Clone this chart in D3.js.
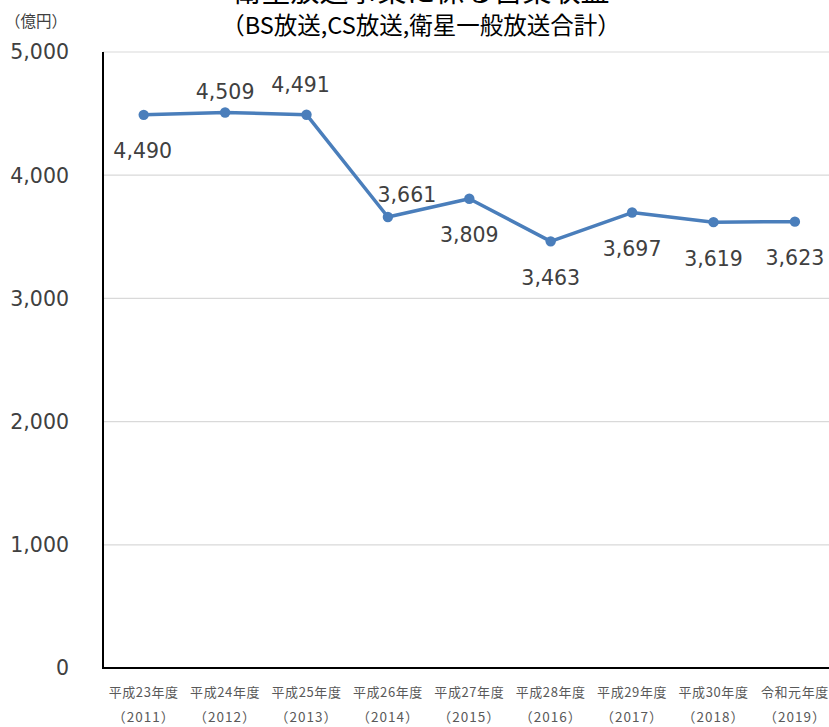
<!DOCTYPE html>
<html><head><meta charset="utf-8">
<script src="https://cdn.jsdelivr.net/npm/d3@7"></script>
<style>body{margin:0;background:#fff;overflow:hidden}svg{display:block}</style>
</head><body>
<svg id="c" width="829" height="727"></svg>
<script>
const categories = ["平成23年度","平成24年度","平成25年度","平成26年度","平成27年度","平成28年度","平成29年度","平成30年度","令和元年度"];
const years = ["（2011）","（2012）","（2013）","（2014）","（2015）","（2016）","（2017）","（2018）","（2019）"];
const values = [4490,4509,4491,3661,3809,3463,3697,3619,3623];
const labelPos = ["belowLeft","above","aboveLeft","aboveRight","below","below","below","below","below"];
const yTicks = [0,1000,2000,3000,4000,5000];

(function(){
const svg = d3.select("#c");
const pLeft = 103, pTop = 52, pBottom = 668, step = 81.4;
const x = d3.scaleBand().domain(categories).range([pLeft, pLeft + step*categories.length]).paddingInner(0).paddingOuter(0);
const y = d3.scaleLinear().domain([0,5000]).range([pBottom, pTop]);
const cx = d => x(d) + x.bandwidth()/2;
const jp = "'Noto Sans CJK JP','Noto Sans',sans-serif";
const num = "'DejaVu Sans','Verdana',sans-serif";

// gridlines
svg.append("g").selectAll("line").data(yTicks.filter(t=>t>0)).join("line")
  .attr("x1", pLeft).attr("x2", 829).attr("y1", d=>y(d)).attr("y2", d=>y(d))
  .attr("stroke", "#d9d9d9").attr("stroke-width", 1.2);

// y tick labels
svg.append("g").selectAll("text").data(yTicks).join("text")
  .attr("x", 69).attr("y", d=>y(d)).attr("dy","0.36em").attr("text-anchor","end")
  .attr("font-family", num).attr("font-size", 20.5).attr("fill","#404040")
  .text(d=>d3.format(",")(d));

// axes lines
svg.append("line").attr("x1",pLeft).attr("x2",pLeft).attr("y1",pTop).attr("y2",pBottom+1)
  .attr("stroke","#000").attr("stroke-width",2);
svg.append("line").attr("x1",pLeft-1).attr("x2",829).attr("y1",pBottom).attr("y2",pBottom)
  .attr("stroke","#000").attr("stroke-width",2);

// x labels
svg.append("g").selectAll("text").data(categories).join("text")
  .attr("x", d=>cx(d)).attr("y", 697).attr("text-anchor","middle")
  .attr("font-family", jp).attr("font-size", 13).attr("letter-spacing", 0.6).attr("fill","#595959").text(d=>d);
svg.append("g").selectAll("text").data(years).join("text")
  .attr("x", (d,i)=>cx(categories[i])).attr("y", 722).attr("text-anchor","middle")
  .attr("font-family", jp).attr("font-size", 13.5).attr("letter-spacing", 1).attr("fill","#595959").text(d=>d);

// line
const line = d3.line().x((d,i)=>cx(categories[i])).y(d=>y(d));
svg.append("path").datum(values).attr("d", line).attr("fill","none")
  .attr("stroke","#4a7ebb").attr("stroke-width",3.5).attr("stroke-linejoin","round");
svg.append("g").selectAll("circle").data(values).join("circle")
  .attr("cx",(d,i)=>cx(categories[i])).attr("cy",d=>y(d)).attr("r",5.2).attr("fill","#4a7ebb");

// data labels
const off = {below:[0,36], above:[0,-21], aboveLeft:[-6,-30], aboveRight:[19,-22], belowLeft:[-1,36]};
svg.append("g").selectAll("text").data(values).join("text")
  .attr("x",(d,i)=>cx(categories[i]) + off[labelPos[i]][0])
  .attr("y",(d,i)=>y(d) + off[labelPos[i]][1]).attr("dy","0.36em")
  .attr("text-anchor","middle").attr("font-family", num).attr("font-size", 20.5).attr("fill","#404040")
  .text(d=>d3.format(",")(d));

// titles
svg.append("text").attr("x",421).attr("y",2).attr("text-anchor","middle")
  .attr("font-family", jp).attr("font-size", 29).attr("fill","#000").text("衛星放送事業に係る営業収益");
svg.append("text").attr("x",421).attr("y",34).attr("text-anchor","middle")
  .attr("font-family", jp).attr("font-size", 23.5).attr("fill","#000").text("（BS放送,CS放送,衛星一般放送合計）");
svg.append("text").attr("x",5).attr("y",27).attr("text-anchor","start")
  .attr("font-family", jp).attr("font-size", 15.5).attr("fill","#404040").text("（億円）");
})();
</script>
</body></html>
